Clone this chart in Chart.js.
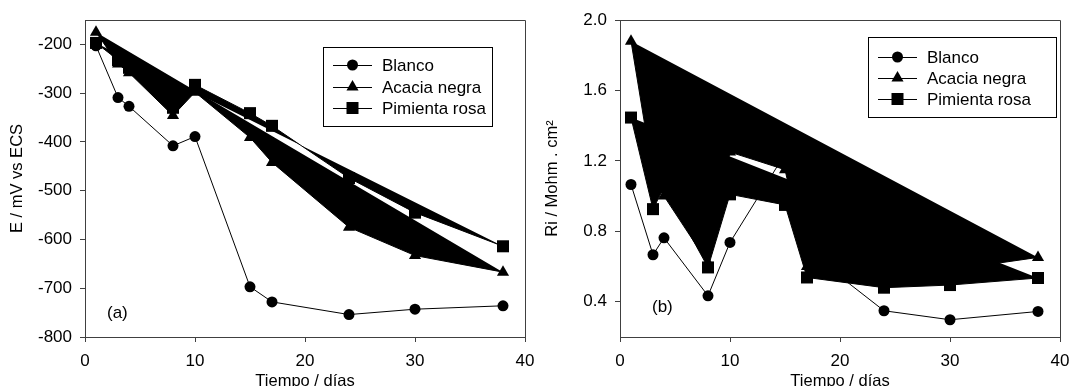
<!DOCTYPE html>
<html>
<head>
<meta charset="utf-8">
<script src="https://cdn.jsdelivr.net/npm/chart.js@4/dist/chart.umd.min.js"></script>
<style>
  html, body { margin: 0; padding: 0; background: #fff; }
  #wrap { width: 1070px; height: 386px; position: relative; overflow: hidden; }
  .pane { position: absolute; top: 0; width: 535px; height: 386px; }
</style>
</head>
<body>
<div id="wrap">
  <div class="pane" style="left:0"><canvas id="c1" width="535" height="386"></canvas></div>
  <div class="pane" style="left:535px"><canvas id="c2" width="535" height="386"></canvas></div>
</div>
<script>
// ---- data ----
const days = [1, 3, 4, 8, 10, 15, 17, 24, 30, 38];
const seriesNames = ["Blanco", "Acacia negra", "Pimienta rosa"];

const potBlanco   = [-203, -309, -327, -408, -389, -697, -728, -754, -743, -736];
const potAcacia   = [-175, -240, -258, -346, -298, -391, -442, -575, -633, -667];
const potPimienta = [-197, -232, -248, -330, -283, -341, -367, -474, -545, -614];

const riBlanco   = [1.066, 0.667, 0.763, 0.434, 0.737, 1.24, 0.69, 0.349, 0.298, 0.345];
const riAcacia   = [1.88, 1.12, 1.00, 0.62, 1.25, 1.15, 0.60, 0.56, 0.58, 0.652];
const riPimienta = [1.446, 0.926, 1.05, 0.595, 1.01, 0.95, 0.538, 0.48, 0.495, 0.535];

const xTicks = [0, 10, 20, 30, 40];
const potTicks = [-800, -700, -600, -500, -400, -300, -200];
const riTicks = [0.4, 0.8, 1.2, 1.6, 2.0];

// ---- helpers ----
const FONT = "'Liberation Sans', Arial, sans-serif";
const AXIS = '#404040';
const styles = [
  { pointStyle: 'circle', radius: 5.5, fill: false },
  { pointStyle: 'triangle', radius: 7, fill: 'shape' },
  { pointStyle: 'rect', radius: 8.5, fill: 'shape' }
];

function pts(xs, ys) { return xs.map((x, i) => ({ x: x, y: ys[i] })); }

function drawMarker(ctx, style, x, y) {
  ctx.save();
  ctx.fillStyle = '#000';
  ctx.beginPath();
  if (style === 'circle') {
    ctx.arc(x, y, 5.5, 0, Math.PI * 2);
  } else if (style === 'triangle') {
    const r = 7;
    ctx.moveTo(x, y - r);
    ctx.lineTo(x + r * Math.sin(Math.PI / 3), y + r / 2);
    ctx.lineTo(x - r * Math.sin(Math.PI / 3), y + r / 2);
    ctx.closePath();
  } else {
    const s = 6;
    ctx.rect(x - s, y - s, 2 * s, 2 * s);
  }
  ctx.fill();
  ctx.restore();
}

const decorPlugin = {
  id: 'decor',
  afterDraw(chart, args, opts) {
    const ctx = chart.ctx;
    const a = chart.chartArea;
    ctx.save();
    // frame top and right
    ctx.strokeStyle = AXIS;
    ctx.lineWidth = 1;
    ctx.beginPath();
    ctx.moveTo(a.left, a.top + 0.5);
    ctx.lineTo(a.right + 0.5, a.top + 0.5);
    ctx.lineTo(a.right + 0.5, a.bottom);
    ctx.stroke();

    // legend
    const L = opts.legend;
    ctx.fillStyle = '#fff';
    ctx.fillRect(L.x, L.y, L.w, L.h);
    ctx.strokeStyle = '#000';
    ctx.strokeRect(L.x + 0.5, L.y + 0.5, L.w, L.h);
    ctx.font = '17px ' + FONT;
    ctx.textBaseline = 'middle';
    ctx.textAlign = 'left';
    seriesNames.forEach((name, i) => {
      const yy = L.rows[i];
      ctx.strokeStyle = '#000';
      ctx.beginPath();
      ctx.moveTo(L.x + 10, yy + 0.5);
      ctx.lineTo(L.x + 49, yy + 0.5);
      ctx.stroke();
      drawMarker(ctx, styles[i].pointStyle, L.x + 29.5, yy);
      ctx.fillStyle = '#000';
      ctx.fillText(name, L.x + 59, yy + 1);
    });

    // panel label
    ctx.font = '17px ' + FONT;
    ctx.fillText(opts.tag, a.left + opts.tagDx, opts.tagY);

    // axis titles
    ctx.font = '16.5px ' + FONT;
    ctx.textAlign = 'center';
    ctx.fillText('Tiempo / días', (a.left + a.right) / 2, 381);
    ctx.translate(opts.yTitleX, (a.top + a.bottom) / 2);
    ctx.rotate(-Math.PI / 2);
    ctx.fillText(opts.yTitle, 0, 0);
    ctx.restore();
  }
};

function makeChart(id, ys, yMin, yMax, yKeep, yFmt, yTitle, yTitleX, tag, tagDx, tagY, legend) {
  const datasets = ys.map((arr, i) => ({
    label: seriesNames[i],
    data: pts(days, arr),
    borderColor: '#000',
    backgroundColor: '#000',
    borderWidth: 1,
    pointStyle: styles[i].pointStyle,
    pointRadius: styles[i].radius,
    pointBackgroundColor: '#000',
    pointBorderColor: '#000',
    pointBorderWidth: 0,
    fill: styles[i].fill,
    tension: 0,
    order: 3 - i
  }));
  return new Chart(document.getElementById(id), {
    type: 'line',
    data: { datasets: datasets },
    options: {
      responsive: false,
      animation: false,
      events: [],
      layout: { padding: { top: 20, right: 10, left: 0, bottom: 0 } },
      plugins: {
        legend: { display: false },
        tooltip: { enabled: false },
        decor: { legend: legend, tag: tag, tagDx: tagDx, tagY: tagY, yTitle: yTitle, yTitleX: yTitleX }
      },
      scales: {
        x: {
          type: 'linear', min: 0, max: 40,
          afterBuildTicks: s => { s.ticks = xTicks.map(v => ({ value: v })); },
          afterFit: s => { s.height = 49; s.paddingLeft = 0; s.paddingRight = 0; },
          grid: { display: true, drawOnChartArea: false, drawTicks: true, tickLength: 5, color: AXIS },
          border: { display: true, color: AXIS, width: 1 },
          ticks: { color: '#000', font: { family: FONT, size: 17 }, padding: 9, maxRotation: 0 }
        },
        y: {
          type: 'linear', min: yMin, max: yMax,
          afterBuildTicks: s => { s.ticks = yKeep.map(v => ({ value: v })); },
          afterFit: s => { s.width = 85; s.paddingTop = 0; s.paddingBottom = 0; },
          grid: { display: true, drawOnChartArea: false, drawTicks: true, tickLength: 5, color: AXIS },
          border: { display: true, color: AXIS, width: 1 },
          ticks: { color: '#000', font: { family: FONT, size: 17 }, padding: 8, callback: yFmt }
        }
      }
    },
    plugins: [decorPlugin]
  });
}

makeChart('c1', [potBlanco, potAcacia, potPimienta], -800, -150, potTicks,
  v => String(v), 'E / mV vs ECS', 17, '(a)', 22, 313,
  { x: 323, y: 47, w: 169, h: 79, rows: [65, 87, 108] });

makeChart('c2', [riBlanco, riAcacia, riPimienta], 0.2, 2.0, riTicks,
  v => Number(v).toFixed(1), 'Ri / Mohm . cm²', 17, '(b)', 32, 307,
  { x: 333, y: 37, w: 188, h: 80, rows: [57, 78, 99] });
</script>
</body>
</html>
